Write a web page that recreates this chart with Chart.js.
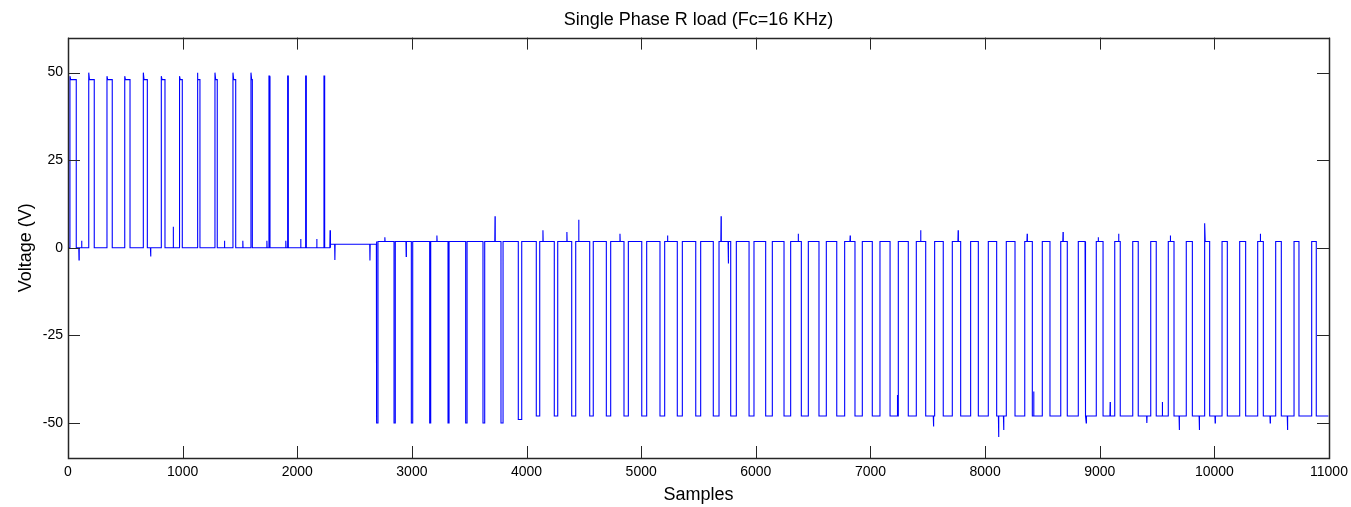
<!DOCTYPE html>
<html>
<head>
<meta charset="utf-8">
<title>Single Phase R load</title>
<script src="https://cdn.jsdelivr.net/npm/chart.js@4.4.1/dist/chart.umd.min.js"></script>
<style>
  html, body { margin: 0; padding: 0; background: #fff; }
  #wrap { width: 1351px; height: 507px; position: relative; }
</style>
</head>
<body>
<div id="wrap"><canvas id="pwm-chart"></canvas></div>
<script>
// axis ticks
const xTicks = [0, 1000, 2000, 3000, 4000, 5000, 6000, 7000, 8000, 9000, 10000, 11000];
const yTicks = [-50, -25, 0, 25, 50];

// positive half: pulse edges (samples), overshoot and flat top (V)
const posRise = [17, 181, 340, 495, 657, 814, 973, 1128, 1282, 1439, 1596, 1753, 1913, 2073, 2233];
const posFall = [72, 229, 386, 541, 692, 846, 997, 1151, 1302, 1463, 1608, 1762, 1922, 2079, 2239];
const posPeak = [49, 50, 49, 49, 50, 49, 49, 50, 50, 50, 50, 49, 49, 49, 49];
const posLevel = [48, 48, 48, 48, 48, 48, 48, 48, 48, 48, 48, 49, 49, 49, 49];

// resting level between pulses
const baseStart = [0, 2290, 2690];
const baseLevel = [0, 1, 1.8];

// negative half: pulse edges (samples) and bottom (V)
const negFall = [2693, 2844, 2995, 3155, 3315, 3469, 3620, 3777, 3928, 4085, 4242, 4394, 4551, 4696,
  4850, 5005, 5164, 5315, 5476, 5629, 5781, 5941, 6086, 6246, 6397, 6551, 6706, 6865, 7016, 7171,
  7330, 7482, 7635, 7787, 7941, 8101, 8261, 8412, 8566, 8717, 8872, 9029, 9179, 9336, 9493, 9648,
  9808, 9959, 10113, 10273, 10427, 10584, 10738, 10889];
const negRise = [2704, 2855, 3007, 3164, 3324, 3481, 3635, 3795, 3958, 4115, 4272, 4429, 4582, 4734,
  4888, 5048, 5205, 5359, 5519, 5679, 5830, 5984, 6144, 6304, 6458, 6615, 6775, 6929, 7083, 7243,
  7400, 7560, 7714, 7874, 8028, 8185, 8346, 8499, 8660, 8813, 8970, 9131, 9288, 9445, 9598, 9755,
  9912, 10067, 10221, 10378, 10535, 10695, 10849, 10995];
const negLow = [-50, -50, -50, -50, -50, -50, -50, -50, -49, -48, -48, -48, -48, -48,
  -48, -48, -48, -48, -48, -48, -48, -48, -48, -48, -48, -48, -48, -48, -48, -48,
  -48, -48, -48, -48, -48, -48, -48, -48, -48, -48, -48, -48, -48, -48, -48, -48,
  -48, -48, -48, -48, -48, -48, -48, -48];

// isolated glitches seen on the trace
const spikeAt = [96, 119, 721, 918, 1365, 1525, 1735, 1900, 2030, 2170, 2286, 2328, 2634, 2764, 2950,
  3218, 3725, 4143, 4352, 4455, 4815, 5230, 5697, 5760, 6370, 6823, 7235, 7438, 7550, 7765, 8118,
  8162, 8367, 8424, 8680, 8882, 8987, 9091, 9165, 9411, 9546, 9616, 9694, 9869, 9918, 10007, 10401,
  10487, 10638];
const spikeVal = [-3.5, 2, -2.5, 6, 2, 2, 2, 2, 2.5, 2.5, 5, -3.5, -3.6, 3, -2.5,
  3.5, 9, 5, 4.5, 8, 4, 3.5, 9, -4.5, 4, 3.5, -42, 5, -51, 5, -54,
  -52, 4, -41, 4.5, -50, 3, -44, 4, -50, -44, 3.5, -52, -52, 7, -50, 4,
  -50, -52];

const LAST_SAMPLE = 10995;

function levelAt(s) {
  for (let i = 0; i < posRise.length; i++) {
    if (s >= posRise[i] && s < posFall[i]) return posLevel[i];
  }
  for (let i = 0; i < negFall.length; i++) {
    if (s >= negFall[i] && s < negRise[i]) return negLow[i];
  }
  let lvl = baseLevel[0];
  baseStart.forEach((b, i) => { if (s >= b) lvl = baseLevel[i]; });
  return lvl;
}

function buildTrace() {
  const pts = [{ x: 0, y: levelAt(0) }];

  posRise.forEach((r, i) => {
    const f = posFall[i];
    pts.push({ x: r, y: levelAt(r - 1) }, { x: r, y: posPeak[i] },
      { x: Math.min(r + 6, f), y: posLevel[i] }, { x: f, y: posLevel[i] }, { x: f, y: levelAt(f) });
  });

  baseStart.slice(1).forEach((b) => {
    pts.push({ x: b, y: levelAt(b - 1) }, { x: b, y: levelAt(b) });
  });

  negFall.forEach((f, i) => {
    const r = negRise[i];
    pts.push({ x: f, y: levelAt(f - 1) }, { x: f, y: negLow[i] }, { x: r, y: negLow[i] });
    if (r < LAST_SAMPLE) pts.push({ x: r, y: levelAt(r) });
  });

  spikeAt.forEach((s, i) => {
    const l = levelAt(s);
    pts.push({ x: s - 2, y: l }, { x: s, y: spikeVal[i] }, { x: s + 2, y: l });
  });

  return pts.sort((a, b) => a.x - b.x);
}

// box round the plot plus inward tick marks on all four sides
const matlabFrame = {
  id: 'matlabFrame',
  afterDatasetsDraw(chart) {
    const { ctx, chartArea: a, scales } = chart;
    const len = 12;
    ctx.save();
    ctx.strokeStyle = '#262626';
    ctx.lineWidth = 1;
    ctx.beginPath();
    xTicks.forEach((v) => {
      const px = Math.round(scales.x.getPixelForValue(v)) + 0.5;
      ctx.moveTo(px, a.bottom); ctx.lineTo(px, a.bottom - len);
      ctx.moveTo(px, a.top); ctx.lineTo(px, a.top + len);
    });
    yTicks.forEach((v) => {
      const py = Math.round(scales.y.getPixelForValue(v)) + 0.5;
      ctx.moveTo(a.left, py); ctx.lineTo(a.left + len, py);
      ctx.moveTo(a.right, py); ctx.lineTo(a.right - len, py);
    });
    ctx.stroke();
    ctx.lineWidth = 1.5;
    ctx.strokeRect(Math.round(a.left) + 0.5, Math.round(a.top) + 0.5,
      Math.round(a.right - a.left), Math.round(a.bottom - a.top));
    ctx.restore();
  },
};

Chart.defaults.font.family = '"Liberation Sans", Arial, Helvetica, sans-serif';
Chart.defaults.color = '#000';

new Chart(document.getElementById('pwm-chart'), {
  type: 'line',
  data: {
    datasets: [{
      label: 'Voltage',
      data: buildTrace(),
      borderColor: '#0000ff',
      borderWidth: 1.1,
      pointRadius: 0,
      tension: 0,
      fill: false,
    }],
  },
  options: {
    responsive: true,
    maintainAspectRatio: false,
    animation: false,
    layout: { padding: { left: 0, right: 22, top: 0, bottom: 0 } },
    plugins: {
      legend: { display: false },
      tooltip: { enabled: false },
      title: {
        display: true,
        text: 'Single Phase R load (Fc=16 KHz)',
        fullSize: false,
        font: { size: 18, weight: 'normal' },
        color: '#000',
        padding: { top: 9, bottom: 7 },
      },
    },
    scales: {
      x: {
        type: 'linear',
        min: 0,
        max: 11000,
        afterBuildTicks: (s) => { s.ticks = xTicks.map((v) => ({ value: v })); },
        afterFit: (s) => { s.height = 49; s.paddingLeft = 0; s.paddingRight = 0; },
        ticks: { font: { size: 14 }, color: '#000', padding: 6, maxRotation: 0, autoSkip: false,
          callback: (v) => String(v) },
        grid: { display: false, drawTicks: false },
        border: { display: false },
        title: { display: true, text: 'Samples', font: { size: 18 }, color: '#000', padding: { top: 0, bottom: 1 } },
      },
      y: {
        type: 'linear',
        min: -60,
        max: 60,
        afterBuildTicks: (s) => { s.ticks = yTicks.map((v) => ({ value: v })); },
        afterFit: (s) => { s.width = 68; },
        ticks: { font: { size: 14 }, color: '#000', padding: 5, callback: (v) => String(v) },
        grid: { display: false, drawTicks: false },
        border: { display: false },
        title: { display: true, text: 'Voltage (V)', font: { size: 18 }, color: '#000', padding: { top: 15, bottom: 0 } },
      },
    },
  },
  plugins: [matlabFrame],
});
</script>
</body>
</html>
